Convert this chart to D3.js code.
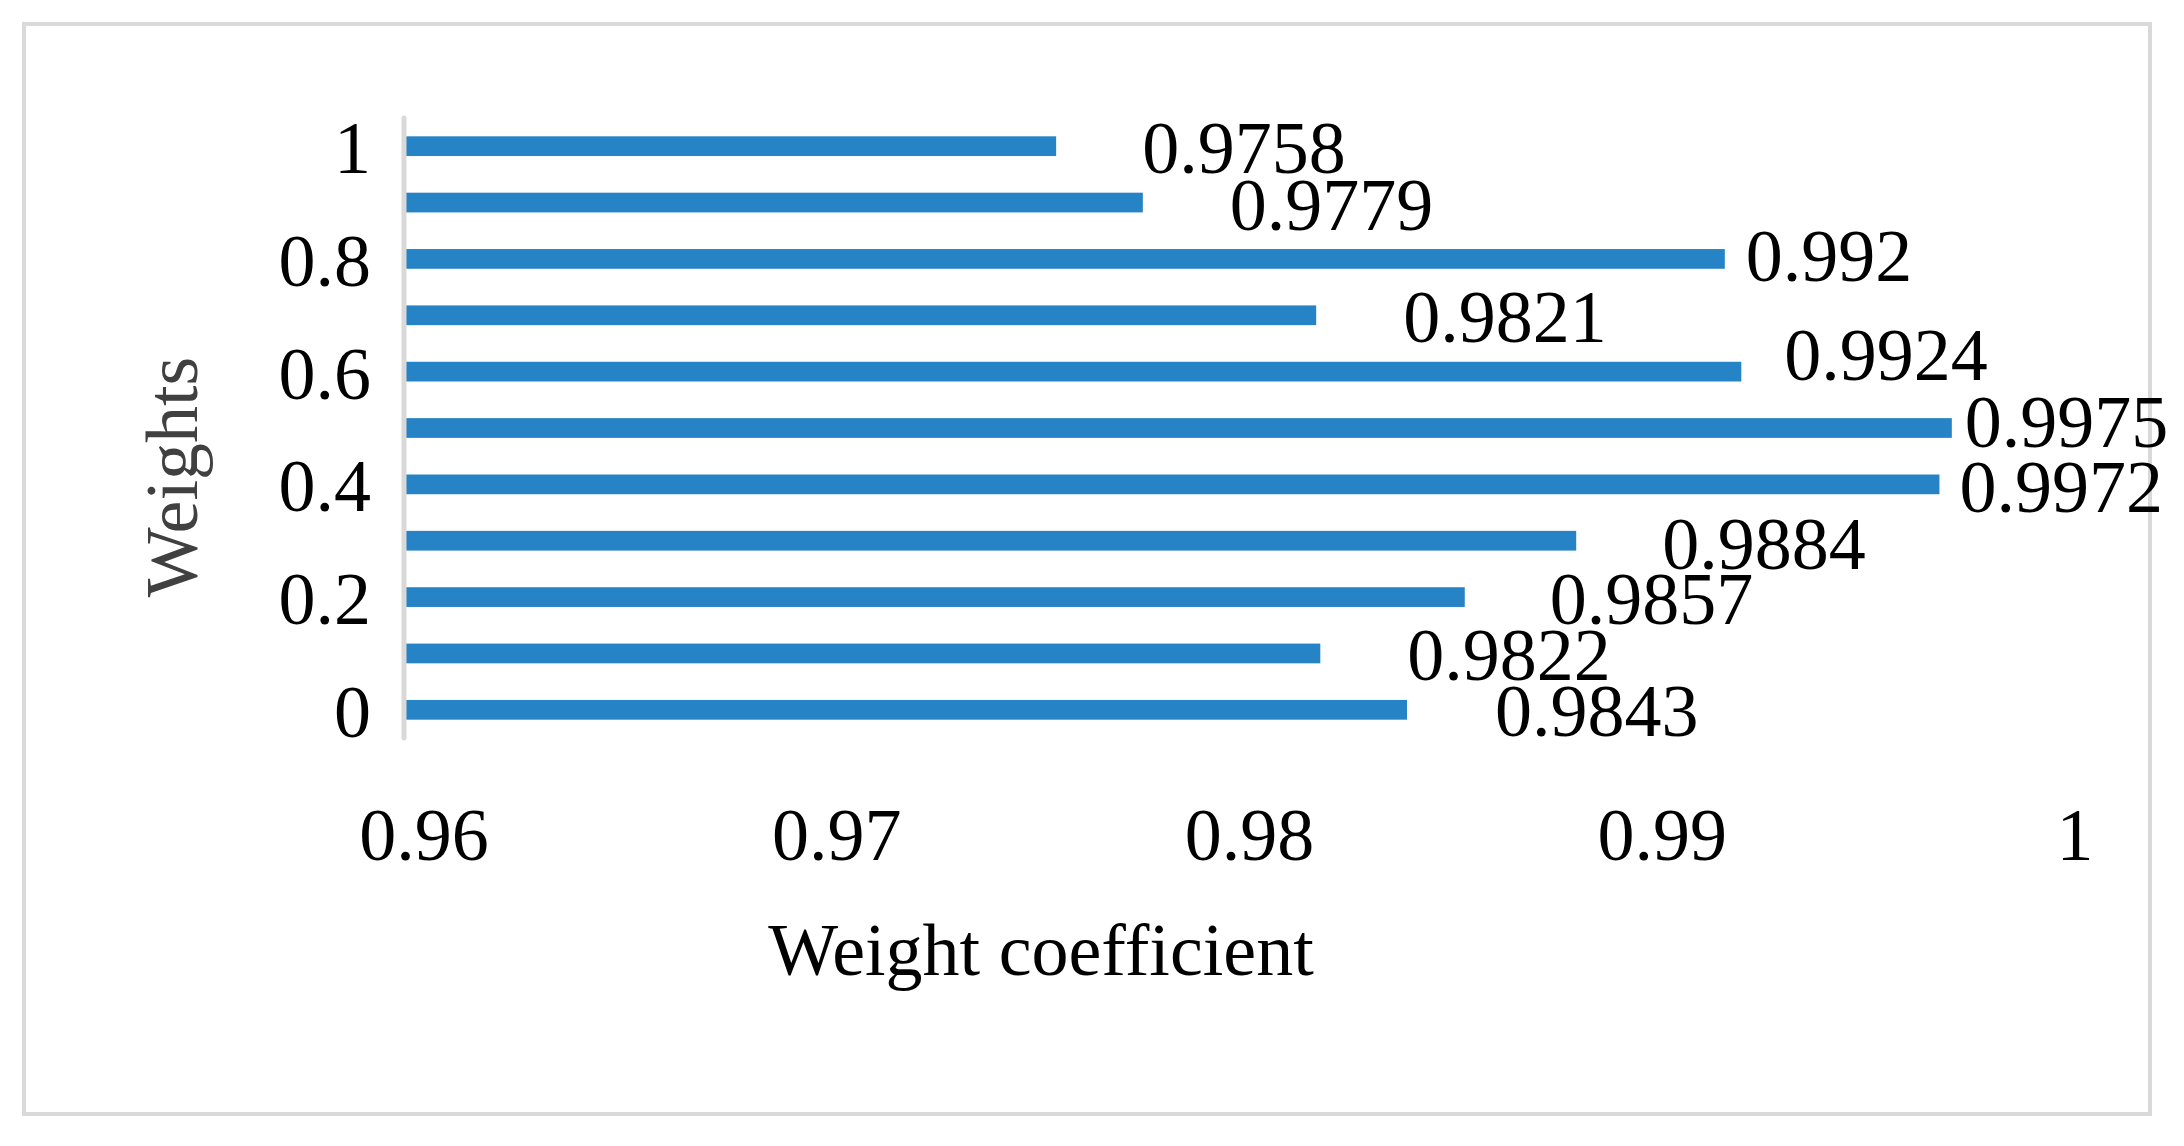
<!DOCTYPE html>
<html>
<head>
<meta charset="utf-8">
<script src="https://cdn.jsdelivr.net/npm/d3@7"></script>
<style>
  html, body { margin: 0; padding: 0; background: #ffffff; }
  svg text { font-family: "Liberation Serif", "Times New Roman", serif; }
</style>
</head>
<body>
<div id="chart"></div>
<script>
// categories run bottom to top, same order as the values
const categories = ["0", "0.1", "0.2", "0.3", "0.4", "0.5", "0.6", "0.7", "0.8", "0.9", "1"];
const coefficients = [0.9843, 0.9822, 0.9857, 0.9884, 0.9972, 0.9975, 0.9924, 0.9821, 0.992, 0.9779, 0.9758];
const yTickLabels = ["0", "0.2", "0.4", "0.6", "0.8", "1"];
const xTickValues = [0.96, 0.97, 0.98, 0.99, 1];

// data labels were nudged by hand in the original, keep those nudges here
const labelDx = [88, 87, 85, 86, 20, 13, 43, 87, 21, 87, 86];
const labelDy = [-1, 0, 0, 1, 1, -8, -19, 0, -5, 0, 0];

const width = 2184;
const height = 1146;
const plot = { left: 404, right: 2055, top: 118, bottom: 738 };
const barColor = "#2683c6";
const fontSize = 74;
const baseShift = 27; // baseline below the bar centre so digits sit centred

const svg = d3.select("#chart")
    .append("svg")
    .attr("width", width)
    .attr("height", height);

// outer chart border
svg.append("rect")
    .attr("x", 24)
    .attr("y", 24)
    .attr("width", 2126)
    .attr("height", 1090)
    .attr("fill", "#ffffff")
    .attr("stroke", "#d9d9d9")
    .attr("stroke-width", 4);

const x = d3.scaleLinear()
    .domain([0.96, 1])
    .range([plot.left, plot.right]);

const y = d3.scaleBand()
    .domain(categories)
    .range([plot.bottom, plot.top])
    .paddingInner(0.65)
    .paddingOuter(0.325);

// bars
svg.selectAll(".bar")
    .data(categories)
    .enter()
    .append("rect")
    .attr("class", "bar")
    .attr("x", x(0.96))
    .attr("y", d => y(d))
    .attr("width", (d, i) => x(coefficients[i]) - x(0.96))
    .attr("height", y.bandwidth())
    .attr("fill", barColor);

// vertical axis line
svg.append("line")
    .attr("x1", x(0.96))
    .attr("x2", x(0.96))
    .attr("y1", plot.top)
    .attr("y2", plot.bottom)
    .attr("stroke", "#d9d9d9")
    .attr("stroke-width", 5)
    .attr("stroke-linecap", "round");

// y tick labels, every other category
svg.selectAll(".ytick")
    .data(yTickLabels)
    .enter()
    .append("text")
    .attr("class", "ytick")
    .attr("x", x(0.96) - 33)
    .attr("y", d => y(d) + y.bandwidth() / 2 + baseShift)
    .attr("text-anchor", "end")
    .attr("font-size", fontSize)
    .attr("fill", "#000000")
    .text(d => d);

// x tick labels (no axis line in the original)
svg.selectAll(".xtick")
    .data(xTickValues)
    .enter()
    .append("text")
    .attr("class", "xtick")
    .attr("x", d => x(d) + 20)
    .attr("y", 860)
    .attr("text-anchor", "middle")
    .attr("font-size", fontSize)
    .attr("fill", "#000000")
    .text(d => d3.format("")(d));

// data labels
svg.selectAll(".value")
    .data(categories)
    .enter()
    .append("text")
    .attr("class", "value")
    .attr("x", (d, i) => x(coefficients[i]) + labelDx[i])
    .attr("y", (d, i) => y(d) + y.bandwidth() / 2 + baseShift + labelDy[i])
    .attr("font-size", fontSize)
    .attr("fill", "#000000")
    .text((d, i) => coefficients[i]);

// axis titles
svg.append("text")
    .attr("x", 1041)
    .attr("y", 975)
    .attr("text-anchor", "middle")
    .attr("font-size", fontSize)
    .attr("fill", "#000000")
    .text("Weight coefficient");

svg.append("text")
    .attr("transform", "translate(197,477) rotate(-90)")
    .attr("text-anchor", "middle")
    .attr("font-size", fontSize)
    .attr("fill", "#404040")
    .text("Weights");
</script>
</body>
</html>
